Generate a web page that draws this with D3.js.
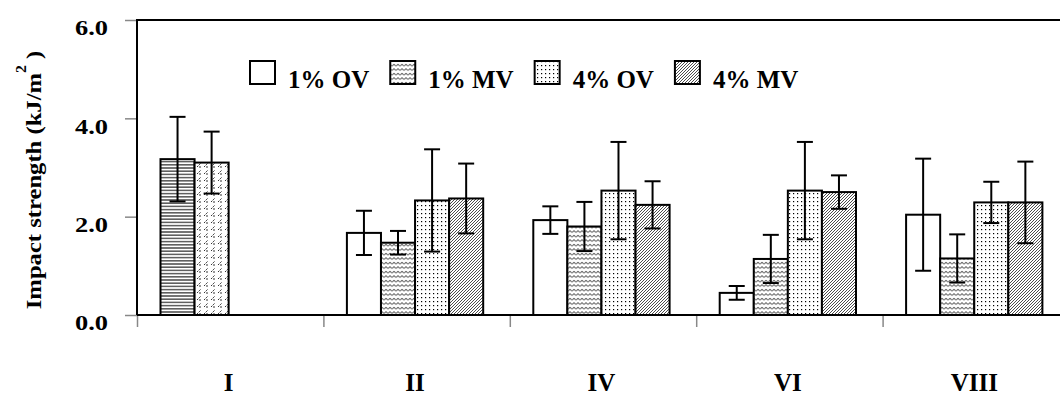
<!DOCTYPE html>
<html>
<head>
<meta charset="utf-8">
<script src="https://cdn.jsdelivr.net/npm/d3@7"></script>
<style>
  html, body { margin: 0; padding: 0; background: #fff; }
  svg { display: block; }
  text { font-family: "Liberation Serif", "Times New Roman", serif; font-weight: bold; fill: #000; }
</style>
</head>
<body>
<svg id="chart" width="1060" height="396"></svg>
<script>
// Impact strength by formulation group, mean with error bars
const categories = ["I", "II", "IV", "VI", "VIII"];
const seriesNames = ["1% OV", "1% MV", "4% OV", "4% MV"];
const ov1 = [3.17, 1.67, 1.93, 0.45, 2.04];
const mv1 = [3.10, 1.47, 1.80, 1.14, 1.15];
const ov4 = [null, 2.33, 2.53, 2.53, 2.29];
const mv4 = [null, 2.37, 2.24, 2.50, 2.29];
const ov1Err = [0.86, 0.45, 0.28, 0.14, 1.14];
const mv1Err = [0.63, 0.24, 0.50, 0.49, 0.49];
const ov4Err = [null, 1.04, 0.99, 0.99, 0.42];
const mv4Err = [null, 0.71, 0.48, 0.34, 0.83];
const yTicks = [0, 2, 4, 6];

const seriesValues = [ov1, mv1, ov4, mv4];
const seriesErrors = [ov1Err, mv1Err, ov4Err, mv4Err];

const svg = d3.select("#chart");

// fill patterns
const defs = svg.append("defs");
function pattern(id, w, h) {
  const p = defs.append("pattern").attr("id", id).attr("patternUnits", "userSpaceOnUse")
    .attr("width", w).attr("height", h);
  p.append("rect").attr("width", w).attr("height", h).attr("fill", "#fff");
  return p;
}
// wavy zigzag
pattern("zig", 4, 4.5).append("path")
  .attr("d", "M0,3.2 L2,1.2 L4,3.2").attr("fill", "none").attr("stroke", "#000").attr("stroke-width", 0.9);
// dots
const pd = pattern("dots", 4, 4);
pd.append("rect").attr("x", 1).attr("y", 1).attr("width", 1.2).attr("height", 1.2).attr("fill", "#000");
// dense diagonal hatch
pattern("diag", 3, 3).append("path")
  .attr("d", "M-0.75,0.75 L0.75,-0.75 M0,3 L3,0 M2.25,3.75 L3.75,2.25")
  .attr("stroke", "#000").attr("stroke-width", 0.7);
// horizontal stripes
pattern("hlines", 4, 3.2).append("line")
  .attr("x1", 0).attr("x2", 4).attr("y1", 1.6).attr("y2", 1.6)
  .attr("stroke", "#000").attr("stroke-width", 1);
// sparse slashes
const ps = pattern("slash", 7, 7);
ps.append("path").attr("d", "M1,6 L5,2 M3,6 L5,6").attr("fill", "none")
  .attr("stroke", "#000").attr("stroke-width", 0.8).attr("stroke-dasharray", "2,1");

const seriesFill = ["#fff", "url(#zig)", "url(#dots)", "url(#diag)"];
const groupFill = { "I": ["url(#hlines)", "url(#slash)"] };

const plotLeft = 137, plotTop = 20, plotBottom = 315, bandW = 186.4;

const x = d3.scaleBand().domain(categories)
  .range([plotLeft, plotLeft + bandW * categories.length]).padding(0);
const xSub = d3.scaleBand().domain(seriesNames).range([23.5, 159.8]).padding(0);
const y = d3.scaleLinear().domain([0, 6]).range([plotBottom, plotTop]);

// frame: top border
svg.append("line").attr("x1", plotLeft).attr("x2", 1060).attr("y1", plotTop).attr("y2", plotTop)
  .attr("stroke", "#000").attr("stroke-width", 2);

// y axis
const yAxis = svg.append("g").attr("transform", `translate(${plotLeft},0)`)
  .call(d3.axisLeft(y).tickValues(yTicks).tickSize(12).tickPadding(0).tickFormat(d3.format(".1f")));
yAxis.select(".domain").remove();
yAxis.selectAll(".tick line").attr("stroke", "#888").attr("stroke-width", 1.5);
yAxis.selectAll(".tick text").attr("x", 0).attr("y", 0).attr("dy", null)
  .attr("transform", "translate(-29,14.8) scale(1.2,1)")
  .attr("font-size", 22).attr("text-anchor", "end").attr("fill", "#000");

// x axis ticks at band boundaries
const xb = d3.scaleLinear().domain([0, categories.length]).range(x.range());
const xAxis = svg.append("g").attr("transform", `translate(0,${plotBottom})`)
  .call(d3.axisBottom(xb).tickValues(d3.range(categories.length)).tickSize(12).tickFormat(""));
xAxis.select(".domain").remove();
xAxis.selectAll(".tick line").attr("stroke", "#888").attr("stroke-width", 1.5);

// category labels
svg.append("g").selectAll("text").data(categories).join("text")
  .attr("x", d => x(d) + xSub("1% MV") + xSub.bandwidth())
  .attr("y", 391).attr("text-anchor", "middle").attr("font-size", 25)
  .text(d => d);

// bars
const bars = [];
categories.forEach((c, ci) => {
  seriesNames.forEach((s, si) => {
    const v = seriesValues[si][ci];
    if (v == null) return;
    const fill = groupFill[c] ? groupFill[c][si] : seriesFill[si];
    bars.push({ c, s, v, e: seriesErrors[si][ci], fill });
  });
});

const g = svg.append("g");
g.selectAll("rect").data(bars).join("rect")
  .attr("x", d => x(d.c) + xSub(d.s))
  .attr("width", xSub.bandwidth())
  .attr("y", d => y(d.v))
  .attr("height", d => y(0) - y(d.v))
  .attr("fill", d => d.fill)
  .attr("stroke", "#000").attr("stroke-width", 2);

// error bars
const eg = svg.append("g").attr("stroke", "#000").attr("stroke-width", 2);
bars.forEach(d => {
  const cx = x(d.c) + xSub(d.s) + xSub.bandwidth() / 2;
  eg.append("line").attr("x1", cx).attr("x2", cx).attr("y1", y(d.v + d.e)).attr("y2", y(d.v - d.e));
  [d.v + d.e, d.v - d.e].forEach(t => {
    eg.append("line").attr("x1", cx - 8).attr("x2", cx + 8).attr("y1", y(t)).attr("y2", y(t));
  });
});

// axis lines drawn last
svg.append("line").attr("x1", plotLeft).attr("x2", plotLeft).attr("y1", plotTop - 1).attr("y2", plotBottom)
  .attr("stroke", "#000").attr("stroke-width", 2);
svg.append("line").attr("x1", plotLeft).attr("x2", 1060).attr("y1", plotBottom).attr("y2", plotBottom)
  .attr("stroke", "#000").attr("stroke-width", 2);

// y axis title
const yt = svg.append("text").attr("transform", "translate(41,180) rotate(-90) scale(1.12,1)")
  .attr("text-anchor", "middle").attr("font-size", 22);
yt.append("tspan").text("Impact strength (kJ/m");
yt.append("tspan").attr("font-size", 14).attr("dy", -15).text("2");
yt.append("tspan").attr("dy", 15).text(" )");

// legend
const legend = svg.append("g");
let lx = 250;
seriesNames.forEach((s, i) => {
  legend.append("rect").attr("x", lx).attr("y", 61).attr("width", 25).attr("height", 23)
    .attr("fill", seriesFill[i]).attr("stroke", "#000").attr("stroke-width", 2);
  const t = legend.append("text").attr("x", lx + 38).attr("y", 87.5).attr("font-size", 25).text(s);
  lx = lx + 38 + t.node().getComputedTextLength() + 21;
});
</script>
</body>
</html>
